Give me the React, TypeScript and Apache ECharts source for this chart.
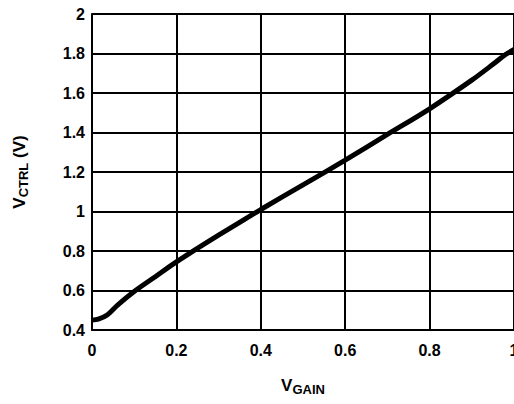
import React, { useEffect, useRef } from "react";
import * as echarts from "echarts";

const xValues = [0, 0.015, 0.035, 0.06, 0.1, 0.15, 0.2, 0.3, 0.4, 0.5, 0.6, 0.7, 0.8, 0.9, 0.95, 0.98, 1.0];
const yValues = [0.45, 0.455, 0.475, 0.525, 0.595, 0.67, 0.745, 0.88, 1.01, 1.135, 1.26, 1.39, 1.52, 1.665, 1.745, 1.795, 1.82];

const FONT = "'Liberation Sans', Arial, sans-serif";

export default function App() {
  const ref = useRef<HTMLDivElement>(null);
  useEffect(() => {
    if (!ref.current) return;
    const chart = echarts.init(ref.current, undefined, { renderer: "svg" });
    const data = xValues.map((x, i) => [x, yValues[i]]);
    chart.setOption({
      animation: false,
      backgroundColor: "#ffffff",
      grid: { left: 92, top: 14, right: 0, bottom: 74, containLabel: false, outerBoundsMode: "none" },
      xAxis: {
        type: "value",
        min: 0,
        max: 1,
        interval: 0.2,
        name: "{v|V}{s|GAIN}",
        nameLocation: "middle",
        nameGap: 44,
        nameTextStyle: {
          rich: {
            v: { fontFamily: FONT, fontWeight: "bold", fontSize: 17, color: "#000", lineHeight: 22 },
            s: { fontFamily: FONT, fontWeight: "bold", fontSize: 13, color: "#000", padding: [8, 0, 0, 0], lineHeight: 22 },
          },
        },
        axisLine: { show: true, lineStyle: { color: "#000", width: 2 } },
        axisTick: { show: false },
        splitLine: { show: true, lineStyle: { color: "#000", width: 2 } },
        axisLabel: {
          color: "#000",
          fontFamily: FONT,
          fontWeight: "bold",
          fontSize: 16,
          margin: 12,
          formatter: (v: number) => String(Math.round(v * 10) / 10),
        },
      },
      yAxis: {
        type: "value",
        min: 0.4,
        max: 2,
        interval: 0.2,
        name: "{v|V}{s|CTRL}{v| (V)}",
        nameLocation: "middle",
        nameGap: 62,
        nameTextStyle: {
          rich: {
            v: { fontFamily: FONT, fontWeight: "bold", fontSize: 17, color: "#000", lineHeight: 22 },
            s: { fontFamily: FONT, fontWeight: "bold", fontSize: 13, color: "#000", padding: [8, 0, 0, 0], lineHeight: 22 },
          },
        },
        axisLine: { show: true, lineStyle: { color: "#000", width: 2 } },
        axisTick: { show: false },
        splitLine: { show: true, lineStyle: { color: "#000", width: 2 } },
        axisLabel: {
          color: "#000",
          fontFamily: FONT,
          fontWeight: "bold",
          fontSize: 16,
          margin: 7,
          formatter: (v: number) => String(Math.round(v * 10) / 10),
        },
      },
      series: [
        {
          type: "line",
          data,
          smooth: 0.3,
          showSymbol: false,
          lineStyle: { color: "#000", width: 5 },
          clip: false,
        },
      ],
    });
    return () => chart.dispose();
  }, []);
  return (
    <div
      ref={ref}
      style={{ position: "fixed", left: 0, top: 0, width: 514, height: 404 }}
    />
  );
}
